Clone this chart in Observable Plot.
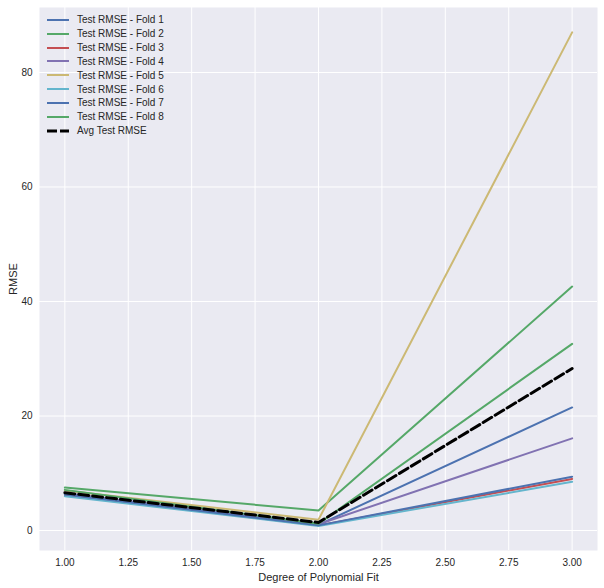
<!DOCTYPE html>
<html>
<head>
<meta charset="utf-8">
<script src="https://cdn.jsdelivr.net/npm/d3@7"></script>
<script src="https://cdn.jsdelivr.net/npm/@observablehq/plot@0.6"></script>
<style>
  html, body { margin: 0; padding: 0; background: #ffffff; }
  #wrap { position: relative; width: 604px; height: 588px; font-family: "Liberation Sans", Arial, sans-serif; }
  #legend { position: absolute; left: 47px; top: 13px; font-size: 10px; color: #262626; }
  .item { display: flex; align-items: center; height: 13.85px; }
  .item svg { margin-right: 8px; }
</style>
</head>
<body>
<div id="wrap"><div id="legend"></div></div>
<script>
const degrees = [1, 2, 3];
const foldNames = ["Test RMSE - Fold 1", "Test RMSE - Fold 2", "Test RMSE - Fold 3", "Test RMSE - Fold 4",
                   "Test RMSE - Fold 5", "Test RMSE - Fold 6", "Test RMSE - Fold 7", "Test RMSE - Fold 8"];
const fold1 = [6.4, 1.0, 21.5];
const fold2 = [7.5, 3.5, 42.6];
const fold3 = [6.2, 0.9, 9.0];
const fold4 = [6.5, 1.1, 16.1];
const fold5 = [7.0, 1.9, 87.0];
const fold6 = [6.0, 0.8, 8.5];
const fold7 = [6.3, 0.9, 9.4];
const fold8 = [7.1, 1.2, 32.6];
const avgRmse = [6.6, 1.4, 28.3];
const avgName = "Avg Test RMSE";
const colors = ["#4C72B0", "#55A868", "#C44E52", "#8172B2", "#CCB974", "#64B5CD", "#4C72B0", "#55A868"];
const xTicks = [1, 1.25, 1.5, 1.75, 2, 2.25, 2.5, 2.75, 3];
const yTicks = [0, 20, 40, 60, 80];

const folds = [fold1, fold2, fold3, fold4, fold5, fold6, fold7, fold8];
const rows = [];
folds.forEach((vals, i) => vals.forEach((v, j) => rows.push({fold: foldNames[i], color: colors[i], degree: degrees[j], rmse: v})));
const avgRows = avgRmse.map((v, j) => ({degree: degrees[j], rmse: v}));

const chart = Plot.plot({
  width: 604,
  height: 588,
  marginLeft: 39,
  marginRight: 7,
  marginTop: 7,
  marginBottom: 38,
  style: {fontFamily: "'Liberation Sans', Arial, sans-serif", fontSize: "10px", color: "#262626", background: "white"},
  x: {domain: [0.9, 3.1]},
  y: {domain: [-3.49, 91.35]},
  marks: [
    Plot.frame({fill: "#EAEAF2", stroke: null}),
    Plot.gridX(xTicks, {stroke: "white", strokeOpacity: 1, strokeWidth: 1}),
    Plot.gridY(yTicks, {stroke: "white", strokeOpacity: 1, strokeWidth: 1}),
    Plot.axisX({ticks: xTicks, tickFormat: d3.format(".2f"), tickSize: 0, tickPadding: 8, label: null, fontSize: 10}),
    Plot.axisX({ticks: [], label: "Degree of Polynomial Fit", labelAnchor: "center", labelArrow: "none", labelOffset: 30, fontSize: 11}),
    Plot.axisY({ticks: yTicks, tickSize: 0, tickPadding: 7, label: null, fontSize: 10}),
    Plot.axisY({ticks: [], label: "RMSE", labelAnchor: "center", labelArrow: "none", labelOffset: 30, fontSize: 11}),
    Plot.line(rows, {x: "degree", y: "rmse", z: "fold", stroke: "color", strokeWidth: 2}),
    Plot.line(avgRows, {x: "degree", y: "rmse", stroke: "black", strokeWidth: 3, strokeDasharray: "10,4"})
  ]
});
document.getElementById("wrap").prepend(chart);

// legend
const leg = document.getElementById("legend");
const entries = foldNames.map((n, i) => ({name: n, color: colors[i], dash: null, w: 2}))
  .concat([{name: avgName, color: "black", dash: "10,3", w: 3}]);
for (const e of entries) {
  const div = document.createElement("div");
  div.className = "item";
  div.innerHTML = `<svg width="22" height="6"><line x1="0" y1="3" x2="22" y2="3" stroke="${e.color}" stroke-width="${e.w}" ${e.dash ? `stroke-dasharray="${e.dash}"` : ""}/></svg><span>${e.name}</span>`;
  leg.appendChild(div);
}
</script>
</body>
</html>
